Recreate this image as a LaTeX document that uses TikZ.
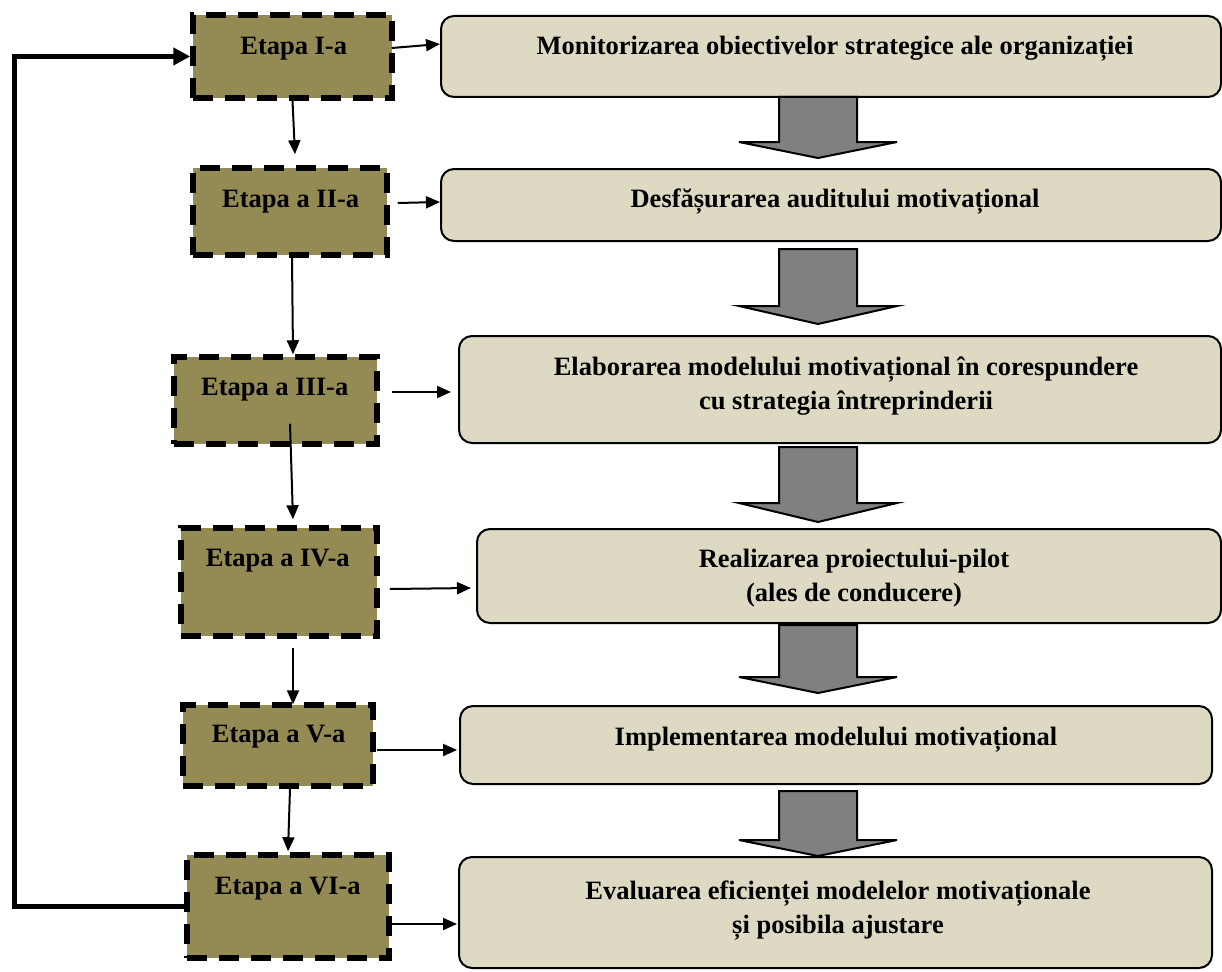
\documentclass[tikz,border=0pt]{standalone}
\usepackage{fontspec}
\setmainfont{Liberation Serif}
\usetikzlibrary{arrows.meta,calc}
\definecolor{stagefill}{HTML}{948A54}
\definecolor{taskfill}{HTML}{DDD9C3}
\definecolor{blockgray}{HTML}{808080}

% down-pointing block arrow: #1 = top, #2 = head base, #3 = tip
\newcommand\blockdown[3]{%
  \draw[blockarrow] (779,#1) -- (857,#1) -- (857,#2) -- (897,#2) -- (818,#3)
    -- (739,#2) -- (779,#2) -- cycle;}

\begin{document}
\begin{tikzpicture}[x=1pt,y=-1pt,
  every node/.style={font=\fontsize{26.5}{34}\selectfont\bfseries},
  stagebox/.style={draw=black, fill=stagefill, line width=5.5pt,
    dash pattern=on 20pt off 12pt, inner sep=0pt},
  taskbox/.style={draw=black, fill=taskfill, line width=2pt,
    rounded corners=13pt, inner sep=0pt},
  lbl/.style={inner sep=0pt, align=center},
  arr/.style={draw=black, line width=2pt, -{Triangle[length=14pt,width=12pt]}},
  fb/.style={draw=black, line width=5pt, -{Triangle[length=17pt,width=17pt]}},
  blockarrow/.style={draw=black, fill=blockgray, line width=2pt, line join=miter}
]
\useasboundingbox (0,0) rectangle (1222,971);

% stage boxes
\node[stagebox, minimum width=199pt, minimum height=83pt]  (sI)   at (292.5,56.5) {};
\node[stagebox, minimum width=194pt, minimum height=87pt]  (sII)  at (290,211.5) {};
\node[stagebox, minimum width=203pt, minimum height=87pt]  (sIII) at (275.5,400.5) {};
\node[stagebox, minimum width=196pt, minimum height=108pt] (sIV)  at (279,582) {};
\node[stagebox, minimum width=190pt, minimum height=81pt]  (sV)   at (278,745.5) {};
\node[stagebox, minimum width=202pt, minimum height=103pt] (sVI)  at (288,906.5) {};

\node[lbl] (lI)   at (293.7,49)  {Etapa I-a};
\node[lbl] (lII)  at (290.7,202) {Etapa a II-a};
\node[lbl] (lIII) at (274.7,390) {Etapa a III-a};
\node[lbl] (lIV)  at (277.8,561) {Etapa a IV-a};
\node[lbl] (lV)   at (278.7,737) {Etapa a V-a};
\node[lbl] (lVI)  at (287.8,889) {Etapa a VI-a};

% task boxes
\node[taskbox, minimum width=780pt, minimum height=81pt]  (r1) at (831,56.5) {};
\node[taskbox, minimum width=780pt, minimum height=72pt]  (r2) at (831,205) {};
\node[taskbox, minimum width=762pt, minimum height=107pt] (r3) at (840,389.5) {};
\node[taskbox, minimum width=744pt, minimum height=94pt]  (r4) at (849,576) {};
\node[taskbox, minimum width=752pt, minimum height=78pt]  (r5) at (836,745) {};
\node[taskbox, minimum width=753pt, minimum height=111pt] (r6) at (835.5,912.5) {};

\node[lbl] (t1) at (835,49)    {Monitorizarea obiectivelor strategice ale organizației};
\node[lbl] (t2) at (835,202)   {Desfășurarea auditului motivațional};
\node[lbl] (t3) at (846,386.5) {Elaborarea modelului motivațional în corespundere\\cu strategia întreprinderii};
\node[lbl] (t4) at (854,578)   {Realizarea proiectului-pilot\\ (ales de conducere)};
\node[lbl] (t5) at (836,740)   {Implementarea modelului motivațional};
\node[lbl] (t6) at (838,910.5) {Evaluarea eficienței modelelor motivaționale\\și posibila ajustare};

% block arrows between task boxes
\blockdown{97}{142}{158}
\blockdown{249}{306}{324}
\blockdown{447}{503}{522}
\blockdown{625}{677}{693}
\blockdown{791}{840}{856}

% stage to stage
\draw[arr] (sI.south) -- ($(sII.north)+(5,-11)$);
\draw[arr] ($(sII.south)+(2,0)$) -- ($(sIII.north)+(17.5,0)$);
\draw[arr] ($(sIII.south)+(14.5,-23)$) -- ($(sIV.north)+(14,-6)$);
\draw[arr] ($(sIV.south)+(14,9)$) -- ($(sV.north)+(15,2)$);
\draw[arr] ($(sV.south)+(12,0)$) -- ($(sVI.north)+(0,-1)$);

% stage to task
\draw[arr] ($(sI.east)+(-3,-8.5)$)   -- ($(r1.west)+(0,-12.5)$);
\draw[arr] ($(sII.east)+(8,-8.5)$)   -- ($(r2.west)+(0,-3)$);
\draw[arr] ($(sIII.east)+(12,-8.5)$) -- ($(r3.west)+(-7,2.5)$);
\draw[arr] ($(sIV.east)+(10,7)$)     -- ($(r4.west)+(-5,12)$);
\draw[arr] ($(sV.east)+(1,4.5)$)     -- ($(r5.west)+(-2,5)$);
\draw[arr] ($(sVI.east)+(-1,17.5)$)  -- ($(r6.west)+(-1,11.5)$);

% feedback loop
\coordinate (fbx) at (14,0);
\draw[fb] (sVI.west) -| (fbx |- sI.west) -- (sI.west);
\end{tikzpicture}
\end{document}
